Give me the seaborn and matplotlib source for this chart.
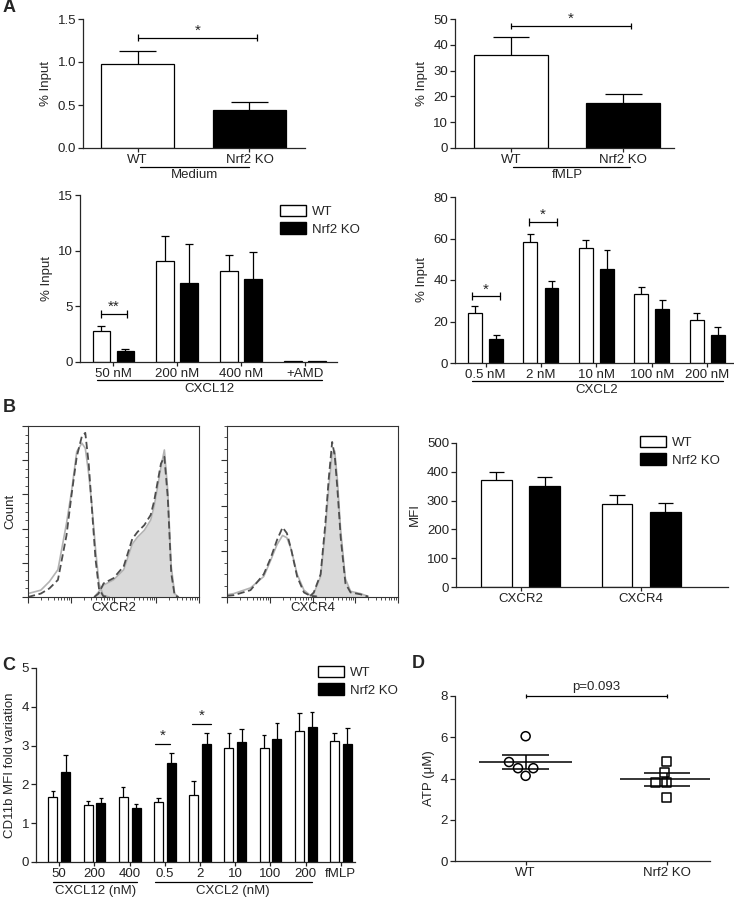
import numpy as np
import pandas as pd
import matplotlib
matplotlib.use("Agg")
import matplotlib.pyplot as plt
import seaborn as sns
from matplotlib.patches import Patch
from matplotlib.transforms import blended_transform_factory
from matplotlib.ticker import MultipleLocator, FixedLocator, NullFormatter

# ---- data ----
geno = ["WT", "Nrf2 KO"]

# A, top: basal and fMLP migration
medium_vals = [0.98, 0.44]
medium_err = [0.15, 0.09]
fmlp_vals = [36.0, 17.5]
fmlp_err = [7.0, 3.5]

# A, bottom left: CXCL12
cxcl12_groups = ["50 nM", "200 nM", "400 nM", "+AMD"]
cxcl12_wt = [2.75, 9.05, 8.2, 0.05]
cxcl12_wt_err = [0.45, 2.25, 1.4, 0.0]
cxcl12_ko = [1.0, 7.1, 7.5, 0.05]
cxcl12_ko_err = [0.2, 3.5, 2.4, 0.0]

# A, bottom right: CXCL2
cxcl2_groups = ["0.5 nM", "2 nM", "10 nM", "100 nM", "200 nM"]
cxcl2_wt = [24.1, 58.3, 55.4, 33.2, 20.7]
cxcl2_wt_err = [3.4, 3.7, 3.9, 3.4, 3.4]
cxcl2_ko = [11.6, 36.1, 45.3, 26.0, 13.5]
cxcl2_ko_err = [1.9, 3.4, 9.2, 4.4, 3.8]

# B: flow histograms (x in log decades, y in % of max counts)
cxcr2_iso_x = [0, 0.3, 0.5, 0.7, 0.9, 1.02, 1.14, 1.26, 1.34, 1.42, 1.5, 1.58, 1.66, 1.76, 1.9]
cxcr2_iso_wt = [2, 4, 9, 16, 43, 62, 85, 90, 87, 72, 52, 28, 8, 1, 0]
cxcr2_iso_ko = [0, 2, 5, 10, 36, 60, 82, 94, 96, 78, 50, 22, 5, 0.5, 0]
cxcr2_stain_x = [1.55, 1.65, 1.77, 2.0, 2.24, 2.44, 2.56, 2.72, 2.87, 2.95, 3.03, 3.11, 3.19, 3.27, 3.35, 3.43, 3.52]
cxcr2_stain_wt = [0, 3, 7, 10, 16, 31, 35, 39, 45, 53, 64, 76, 86, 62, 18, 2, 0]
cxcr2_stain_ko = [0, 2, 8, 11, 18, 34, 38, 42, 48, 56, 67, 78, 82, 58, 14, 1, 0]

cxcr4_iso_x = [0, 0.16, 0.55, 0.86, 1.02, 1.17, 1.3, 1.4, 1.5, 1.64, 1.8, 1.95, 2.1]
cxcr4_iso_wt = [1, 1.5, 4, 9, 16, 23, 27, 26, 21, 10, 3, 0.7, 0.3]
cxcr4_iso_ko = [0.5, 0.8, 3, 10, 17, 25, 30.5, 28, 21, 9, 2, 0.5, 0.2]
cxcr4_stain_x = [1.95, 2.03, 2.19, 2.3, 2.38, 2.46, 2.52, 2.58, 2.66, 2.77, 2.89, 3.12, 3.3]
cxcr4_stain_wt = [0.5, 1.5, 9, 29, 48, 63, 64, 52, 29, 8, 2.5, 1.5, 0.3]
cxcr4_stain_ko = [0.5, 2, 10, 32, 52, 68, 62, 48, 26, 6, 2, 1.2, 0.2]

# B, right: receptor MFI
receptors = ["CXCR2", "CXCR4"]
mfi_wt = [372, 288]
mfi_wt_err = [28, 32]
mfi_ko = [351, 261]
mfi_ko_err = [31, 31]

# C: CD11b fold variation
cd11b_groups = ["CXCL12 50", "CXCL12 200", "CXCL12 400", "CXCL2 0.5", "CXCL2 2",
                "CXCL2 10", "CXCL2 100", "CXCL2 200", "fMLP"]
cd11b_ticks = ["50", "200", "400", "0.5", "2", "10", "100", "200", "fMLP"]
cd11b_wt = [1.68, 1.47, 1.67, 1.54, 1.72, 2.93, 2.93, 3.37, 3.12]
cd11b_wt_err = [0.15, 0.09, 0.26, 0.11, 0.37, 0.40, 0.35, 0.46, 0.20]
cd11b_ko = [2.33, 1.51, 1.38, 2.55, 3.05, 3.08, 3.17, 3.48, 3.03]
cd11b_ko_err = [0.44, 0.14, 0.12, 0.27, 0.28, 0.34, 0.40, 0.38, 0.42]

# D: ATP
atp_wt = [6.05, 4.8, 4.5, 4.5, 4.13]
atp_ko = [4.83, 4.29, 3.79, 3.79, 3.06]

pal = {"WT": "white", "Nrf2 KO": "black"}
FS = 9.5

sns.set_style("ticks")
plt.rcParams["font.family"] = ["Liberation Sans", "DejaVu Sans"]
plt.rcParams["font.size"] = FS
plt.rcParams["axes.linewidth"] = 0.9

W, H = 734, 899
fig = plt.figure(figsize=(W / 100, H / 100), dpi=100)


def add_ax(l, t, r, b):
    return fig.add_axes([l / W, 1 - b / H, (r - l) / W, (b - t) / H])


def fy(py):
    return 1 - py / H


def style(ax):
    sns.despine(ax=ax)
    ax.tick_params(direction="out", width=0.9, labelsize=FS, colors="#222222")
    ax.tick_params(axis="x", length=3, pad=1.2)
    ax.tick_params(axis="y", length=3.5, pad=1.5)
    ax.set_xlabel("")


def add_err(ax, errs):
    for p, e in zip(ax.patches, errs):
        if e <= 0:
            continue
        xc = p.get_x() + p.get_width() / 2
        top = p.get_y() + p.get_height()
        ax.vlines(xc, top, top + e, color="black", lw=0.9)
        ax.hlines(top + e, xc - p.get_width() / 4, xc + p.get_width() / 4, color="black", lw=0.9)


def pair_bars(ax, vals, errs):
    df = pd.DataFrame({"geno": geno, "val": vals})
    sns.barplot(data=df, x="geno", y="val", hue="geno", palette=pal, edgecolor="black",
                linewidth=0.9, width=0.66, errorbar=None, legend=False, ax=ax)
    add_err(ax, errs)


def group_bars(ax, groups, wt, wt_err, ko, ko_err, width, gap):
    df = pd.DataFrame({"group": groups + groups,
                       "geno": ["WT"] * len(groups) + ["Nrf2 KO"] * len(groups),
                       "val": wt + ko})
    sns.barplot(data=df, x="group", y="val", hue="geno", hue_order=geno, palette=pal,
                edgecolor="black", linewidth=0.9, width=width, gap=gap, errorbar=None,
                legend=False, ax=ax)
    add_err(ax, wt_err + ko_err)


def group_line(ax, x0, x1, py_line, label, x_text, py_text):
    tr = blended_transform_factory(ax.transData, fig.transFigure)
    ax.plot([x0, x1], [fy(py_line)] * 2, color="black", lw=0.9, transform=tr, clip_on=False)
    ax.text(x_text, fy(py_text), label, transform=tr, ha="center", va="center", fontsize=FS)


def sig(ax, x0, x1, y, tick, label, ly, ends=True, fs=11):
    ax.plot([x0, x1], [y, y], color="black", lw=0.9, clip_on=False)
    if ends:
        ax.vlines([x0, x1], y - tick, y + tick, color="black", lw=0.9, clip_on=False)
    ax.text((x0 + x1) / 2, ly, label, ha="center", va="center", fontsize=fs)


def legend(ax, px, py):
    handles = [Patch(facecolor="white", edgecolor="black", label="WT"),
               Patch(facecolor="black", edgecolor="black", label="Nrf2 KO")]
    ax.legend(handles=handles, frameon=False, loc="upper left",
              bbox_to_anchor=(px / W, fy(py)), bbox_transform=fig.transFigure,
              handlelength=2.0, handleheight=0.95, borderaxespad=0, borderpad=0,
              labelspacing=0.32, handletextpad=0.45, fontsize=FS)


# ---------- A top left ----------
ax = add_ax(83, 19, 305, 148)
pair_bars(ax, medium_vals, medium_err)
style(ax)
ax.set_xlim(-0.487, 1.496)
ax.set_ylim(0, 1.5)
ax.set_yticks([0, 0.5, 1.0, 1.5])
ax.set_ylabel("% Input")
sig(ax, 0, 1.07, 1.28, 0.04, "*", 1.36)
group_line(ax, 0.02, 1.0, 166.5, "Medium", 0.51, 175)

# ---------- A top right ----------
ax = add_ax(455, 19, 674, 148)
pair_bars(ax, fmlp_vals, fmlp_err)
style(ax)
ax.set_xlim(-0.5, 1.455)
ax.set_ylim(0, 50)
ax.set_yticks([0, 10, 20, 30, 40, 50])
ax.set_ylabel("% Input")
sig(ax, 0, 1.07, 47.3, 1.3, "*", 50)
group_line(ax, 0.02, 1.06, 166.5, "fMLP", 0.5, 175)

# ---------- A bottom left ----------
ax = add_ax(80, 195, 337, 362)
group_bars(ax, cxcl12_groups, cxcl12_wt, cxcl12_wt_err, cxcl12_ko, cxcl12_ko_err, 0.75, 0.29)
style(ax)
ax.set_xlim(-0.516, 3.5)
ax.set_ylim(0, 15)
ax.set_yticks([0, 5, 10, 15])
ax.set_ylabel("% Input")
sig(ax, -0.19, 0.22, 4.3, 0.35, "**", 4.95)
group_line(ax, -0.25, 3.27, 379.5, "CXCL12", 1.5, 389)
legend(ax, 280, 205)

# ---------- A bottom right ----------
ax = add_ax(455, 197, 734, 363)
group_bars(ax, cxcl2_groups, cxcl2_wt, cxcl2_wt_err, cxcl2_ko, cxcl2_ko_err, 0.76, 0.34)
style(ax)
ax.set_xlim(-0.55, 4.48)
ax.set_ylim(0, 80)
ax.set_yticks([0, 20, 40, 60, 80])
ax.set_ylabel("% Input")
sig(ax, -0.24, 0.26, 32.3, 1.8, "*", 35.5)
sig(ax, 0.78, 1.29, 68, 1.8, "*", 71.2)
group_line(ax, -0.24, 4.28, 381, "CXCL2", 2.0, 390)

# ---------- B histograms ----------
hist_sets = [
    (28, 199, 100, 20, cxcr2_iso_x, cxcr2_iso_wt, cxcr2_iso_ko,
     cxcr2_stain_x, cxcr2_stain_wt, cxcr2_stain_ko, "CXCR2"),
    (227, 398, 75, 20, cxcr4_iso_x, cxcr4_iso_wt, cxcr4_iso_ko,
     cxcr4_stain_x, cxcr4_stain_wt, cxcr4_stain_ko, "CXCR4"),
]
minor_pos = [d + np.log10(k) for d in range(4) for k in range(2, 10)]
for (l, r, ymax, ystep, ix, iw, ik, sx, sw, sk, name) in hist_sets:
    ax = add_ax(l, 426, r, 597)
    ax.fill_between(sx, 0, sw, color="#dadada", lw=0)
    sns.lineplot(x=sx, y=sw, ax=ax, color="#b3b3b3", lw=1.2)
    sns.lineplot(x=ix, y=iw, ax=ax, color="#b3b3b3", lw=1.2)
    sns.lineplot(x=sx, y=sk, ax=ax, color="#4d4d4d", lw=1.3)
    sns.lineplot(x=ix, y=ik, ax=ax, color="#4d4d4d", lw=1.3)
    for ln in ax.lines[-2:]:
        ln.set_linestyle((0, (4, 2)))
    ax.set_xlim(0, 4)
    ax.set_ylim(0, ymax)
    ax.xaxis.set_major_locator(FixedLocator([0, 1, 2, 3, 4]))
    ax.xaxis.set_minor_locator(FixedLocator(minor_pos))
    ax.yaxis.set_major_locator(MultipleLocator(ystep))
    ax.yaxis.set_minor_locator(MultipleLocator(ystep / 4))
    ax.xaxis.set_major_formatter(NullFormatter())
    ax.yaxis.set_major_formatter(NullFormatter())
    ax.tick_params(which="major", direction="out", length=4, width=0.8, colors="#333333")
    ax.tick_params(which="minor", direction="out", length=2, width=0.6, colors="#333333")
    for s in ax.spines.values():
        s.set_linewidth(0.8)
        s.set_color("#333333")
    ax.set_xlabel("")
    ax.set_ylabel("")
    fig.text((l + r) / 2 / W, fy(608), name, ha="center", va="center", fontsize=FS)
fig.text(10 / W, fy(511), "Count", rotation=90, ha="center", va="center", fontsize=FS)

# ---------- B receptor MFI ----------
ax = add_ax(456, 443, 728, 587)
group_bars(ax, receptors, mfi_wt, mfi_wt_err, mfi_ko, mfi_ko_err, 0.8, 0.36)
style(ax)
ax.set_xlim(-0.535, 1.72)
ax.set_ylim(0, 500)
ax.set_yticks(range(0, 501, 100))
ax.set_ylabel("MFI")
legend(ax, 640, 436)

# ---------- C ----------
ax = add_ax(36, 668, 355, 862)
group_bars(ax, cd11b_groups, cd11b_wt, cd11b_wt_err, cd11b_ko, cd11b_ko_err, 0.73, 0.3)
style(ax)
ax.set_xticks(range(len(cd11b_ticks)))
ax.set_xticklabels(cd11b_ticks)
ax.set_xlim(-0.66, 8.4)
ax.set_ylim(0, 5)
ax.set_yticks(range(6))
ax.set_ylabel("CD11b MFI fold variation")
sig(ax, 2.72, 3.15, 3.04, 0, "*", 3.25, ends=False)
sig(ax, 3.78, 4.3, 3.56, 0, "*", 3.77, ends=False)
group_line(ax, -0.18, 2.2, 881.5, "CXCL12 (nM)", 1.02, 891)
group_line(ax, 2.72, 7.18, 881.5, "CXCL2 (nM)", 4.93, 891)
legend(ax, 318, 666)

# ---------- D ----------
ax = add_ax(455, 696, 710, 861)
sns.swarmplot(x=["WT"] * len(atp_wt), y=atp_wt, order=geno, marker="o", size=6.5,
              color="black", ax=ax)
sns.swarmplot(x=["Nrf2 KO"] * len(atp_ko), y=atp_ko, order=geno, marker="s", size=6.5,
              color="black", ax=ax)
for coll in ax.collections:
    coll.set_facecolor("none")
    coll.set_edgecolor("black")
    coll.set_linewidth(1.1)
for i, vals in enumerate([atp_wt, atp_ko]):
    m = np.mean(vals)
    s = np.std(vals, ddof=1) / np.sqrt(len(vals))
    ax.hlines(m, i - 0.33, i + 0.33, color="black", lw=1.1)
    ax.hlines([m - s, m + s], i - 0.165, i + 0.165, color="black", lw=1.1)
    ax.vlines(i, m - s, m + s, color="black", lw=1.1)
style(ax)
ax.set_xlim(-0.5, 1.305)
ax.set_ylim(0, 8)
ax.set_yticks([0, 2, 4, 6, 8])
ax.set_ylabel("ATP (μM)")
sig(ax, 0, 1, 8, 0.12, "p=0.093", 8.45, fs=FS)

# panel letters
for letter, px, py in [("A", 9, 8), ("B", 9, 407), ("C", 9, 666), ("D", 418, 664)]:
    fig.text(px / W, fy(py), letter, fontsize=13, fontweight="bold", ha="center", va="center")

fig.savefig("out.png", dpi=100)
